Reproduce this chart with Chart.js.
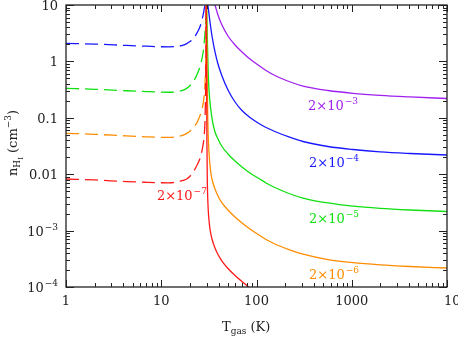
<!DOCTYPE html>
<html>
<head>
<meta charset="utf-8">
<script src="https://cdn.jsdelivr.net/npm/chart.js"></script>
<style>
  html, body { margin: 0; padding: 0; background: #fff; }
  canvas { display: block; }
</style>
</head>
<body>
<canvas id="chart" width="458" height="337"></canvas>
<script>
// T_gas (K) and n_HI (cm^-3)

// solid branches (T above ~30 K)
const tPurple = [34.9, 36.7, 39.4, 43.4, 50.2, 59.5, 70.4, 85.4, 104, 126, 156, 219, 308, 563, 1030, 1980, 4090, 10000];
const nPurple = [13.3, 10, 6.65, 4.42, 2.82, 1.95, 1.47, 1.10, 0.863, 0.690, 0.562, 0.440, 0.366, 0.305, 0.272, 0.2505, 0.2348, 0.2199];

const tBlue = [30.21, 31.34, 32.49, 34.11, 36.67, 39.42, 43.43, 50.2, 59.5, 70.4, 85.4, 104, 126, 156, 219, 308, 563, 1030, 1980, 4090, 10000];
const nBlue = [13.3, 8.15, 4.99, 2.82, 1.47, 0.899, 0.551, 0.311, 0.1906, 0.1347, 0.1012, 0.0809, 0.0673, 0.0571, 0.0457, 0.0380, 0.0310, 0.0274, 0.0249, 0.0233, 0.0219];

const tGreen = [29.93, 30.21, 30.58, 31.11, 31.72, 32.89, 34.51, 36.67, 39.42, 43.43, 50.2, 59.5, 70.4, 85.4, 104, 126, 156, 219, 308, 563, 1030, 1980, 4090, 10000];
const nGreen = [13.3, 5.42, 1.95, 0.649, 0.311, 0.1554, 0.0877, 0.0560, 0.0421, 0.0310, 0.0228, 0.01714, 0.01342, 0.01050, 0.00856, 0.00698, 0.00581, 0.00455, 0.00378, 0.00309, 0.00271, 0.00248, 0.00232, 0.00218];

const tOrange = [29.79, 30.07, 30.44, 30.89, 31.42, 32.11, 33.30, 34.94, 36.67, 39.42, 43.43, 50.2, 59.5, 70.4, 85.4, 104, 126, 156, 219, 308, 563, 1030, 1980, 4090, 10000];
const nOrange = [13.3, 2.39, 0.311, 0.0745, 0.0329, 0.01786, 0.01008, 0.00698, 0.00547, 0.00411, 0.00309, 0.00232, 0.00174, 0.001364, 0.001068, 0.000853, 0.000696, 0.000579, 0.000462, 0.000382, 0.000307, 0.000270, 0.000247, 0.000231, 0.000217];

const tRed = [29.65, 29.87, 30.15, 30.44, 30.89, 31.57, 32.49, 34.11, 36.67, 39.42, 43.43, 50.2, 59.5, 70.4, 85.4, 104];
const nRed = [13.3, 1.059, 0.0404, 0.00789, 0.00309, 0.00167, 0.001068, 0.000710, 0.000491, 0.000377, 0.000289, 0.000213, 0.00016, 0.000125, 0.000096, 0.0000783];

// dashed branches (T below ~30 K)
const tBlueCold = [1, 2, 4.3, 7, 9.7, 12, 14.5, 17, 18.5, 20, 21.5, 23.5, 25.5, 26.6, 27.6, 28.5, 29.2];
const nBlueCold = [2.09, 2.03, 1.92, 1.86, 1.82, 1.81, 1.84, 1.94, 2.07, 2.25, 2.5, 3.1, 4.1, 5.2, 6.8, 9.3, 12];

const tGreenCold = [1, 2, 4.3, 7, 9.7, 12, 14.5, 17, 18.5, 20, 21.5, 23, 24.5, 26, 27.6, 28.8, 29.5, 29.9];
const nGreenCold = [0.333, 0.32, 0.302, 0.292, 0.286, 0.284, 0.29, 0.31, 0.333, 0.37, 0.43, 0.52, 0.66, 0.9, 1.5, 3.2, 6.5, 13];

const tOrangeCold = [1, 2, 4.3, 7, 9.7, 12, 14.5, 17, 18.5, 20, 21.5, 23.5, 25, 26.6, 27.8, 28.8, 29.3, 29.6, 29.75];
const nOrangeCold = [0.0531, 0.051, 0.0477, 0.046, 0.0451, 0.0449, 0.046, 0.0495, 0.053, 0.058, 0.066, 0.08, 0.1, 0.137, 0.2, 0.4, 1, 3, 13];

const tRedCold = [1, 2, 4.3, 7, 9.7, 12, 14.5, 17, 18.5, 20, 21.7, 23.5, 25.5, 27, 28.1, 28.8, 29.2, 29.45, 29.6];
const nRedCold = [0.00822, 0.0079, 0.0074, 0.00718, 0.00706, 0.00702, 0.00725, 0.0078, 0.0082, 0.0092, 0.011, 0.014, 0.019, 0.028, 0.045, 0.09, 0.3, 2, 13];

// curve labels: base text and exponent
const curveLabels = [['2×10', '−3'], ['2×10', '−4'], ['2×10', '−5'], ['2×10', '−6'], ['2×10', '−7']];

// axis ticks
const xTicks = [1, 10, 100, 1000, 10000];
const xTickLabels = [['1', ''], ['10', ''], ['100', ''], ['1000', ''], ['10', '4']];
const yTicks = [1e-4, 1e-3, 0.01, 0.1, 1, 10];
const yTickLabels = [['10', '−4'], ['10', '−3'], ['0.01', ''], ['0.1', ''], ['1', ''], ['10', '']];

const PURPLE = '#a020f0';
const BLUE = '#1818ff';
const GREEN = '#10e010';
const ORANGE = '#ff8c00';
const RED = '#ff1a1a';

const FONT = '"DejaVu Serif", serif';

function series(ts, ns, color, dashed) {
  return {
    data: ts.map((t, i) => ({ x: t, y: ns[i] })),
    borderColor: color,
    borderWidth: 1.3,
    borderDash: dashed ? [13, 6] : [],
    pointRadius: 0,
    cubicInterpolationMode: 'monotone',
    fill: false
  };
}

// draw "base" with an optional superscript; align is for the whole string
function supText(ctx, base, sup, x, y, align, size) {
  size = size || 13;
  const small = Math.round(size * 0.7);
  ctx.font = size + 'px ' + FONT;
  const wb = ctx.measureText(base).width;
  ctx.font = small + 'px ' + FONT;
  const ws = sup ? ctx.measureText(sup).width + 1 : 0;
  let left = x;
  if (align === 'right') left = x - wb - ws;
  if (align === 'center') left = x - (wb + ws) / 2;
  ctx.textAlign = 'left';
  ctx.font = size + 'px ' + FONT;
  ctx.fillText(base, left, y);
  if (sup) {
    ctx.font = small + 'px ' + FONT;
    ctx.fillText(sup, left + wb + 1, y - 6);
  }
}

// label anchors (left edge, baseline) in data coordinates
const labelSpots = [
  { t: 347, n: 0.137, color: PURPLE },
  { t: 356, n: 0.0134, color: BLUE },
  { t: 356, n: 0.00136, color: GREEN },
  { t: 356, n: 0.000139, color: ORANGE },
  { t: 9.0, n: 0.0035, color: RED }
];

const framePlugin = {
  id: 'frame',
  afterDatasetsDraw(chart) {
    const { ctx, chartArea: a, scales: { x, y } } = chart;
    ctx.save();

    // box
    ctx.strokeStyle = '#222';
    ctx.lineWidth = 1.3;
    ctx.setLineDash([]);
    ctx.strokeRect(a.left, a.top, a.right - a.left, a.bottom - a.top);

    // ticks, pointing inwards on all four sides
    ctx.lineWidth = 1;
    ctx.beginPath();
    for (let e = 0; e <= 4; e++) {
      for (let m = 1; m < 10; m++) {
        const v = m * Math.pow(10, e);
        if (v > 10000 * 1.001) break;
        const px = Math.round(x.getPixelForValue(v)) + 0.5;
        const len = m === 1 ? 7 : 4;
        ctx.moveTo(px, a.bottom); ctx.lineTo(px, a.bottom - len);
        ctx.moveTo(px, a.top); ctx.lineTo(px, a.top + len);
      }
    }
    for (let e = -4; e <= 1; e++) {
      for (let m = 1; m < 10; m++) {
        const v = m * Math.pow(10, e);
        if (v > 10 * 1.001) break;
        const py = Math.round(y.getPixelForValue(v)) + 0.5;
        const len = m === 1 ? 8 : 4;
        ctx.moveTo(a.left, py); ctx.lineTo(a.left + len, py);
        ctx.moveTo(a.right, py); ctx.lineTo(a.right - len, py);
      }
    }
    ctx.stroke();

    // tick labels
    ctx.fillStyle = '#222';
    ctx.textBaseline = 'alphabetic';
    xTicks.forEach((v, i) => {
      const px = x.getPixelForValue(v);
      const [b, s] = xTickLabels[i];
      if (s) supText(ctx, b, s, px - 3, a.bottom + 18, 'left');
      else supText(ctx, b, s, px, a.bottom + 18, 'center');
    });
    yTicks.forEach((v, i) => {
      const py = y.getPixelForValue(v);
      const [b, s] = yTickLabels[i];
      supText(ctx, b, s, a.left - 8, py + 5, 'right');
    });

    // x axis title: T_gas (K)
    ctx.textAlign = 'left';
    let cx = 222;
    ctx.font = '13px ' + FONT;
    ctx.fillText('T', cx, 331);
    cx += ctx.measureText('T').width;
    ctx.font = '9px ' + FONT;
    ctx.fillText('gas', cx, 334);
    cx += ctx.measureText('gas').width;
    ctx.font = '13px ' + FONT;
    ctx.fillText(' (K)', cx, 331);

    // y axis title: n_HI (cm^-3), rotated
    const parts = [
      ['n', 13, 0], ['H', 9, 3], ['I', 7, 6], [' (cm', 13, 0], ['−3', 9, -6], [')', 13, 0]
    ];
    let total = 0;
    parts.forEach(p => { ctx.font = p[1] + 'px ' + FONT; total += ctx.measureText(p[0]).width; });
    ctx.save();
    ctx.translate(17, 143);
    ctx.rotate(-Math.PI / 2);
    let rx = -total / 2;
    parts.forEach(p => {
      ctx.font = p[1] + 'px ' + FONT;
      ctx.fillText(p[0], rx, p[2]);
      rx += ctx.measureText(p[0]).width;
    });
    ctx.restore();

    // curve labels
    labelSpots.forEach((s, i) => {
      ctx.fillStyle = s.color;
      const [b, sp] = curveLabels[i];
      supText(ctx, b, sp, x.getPixelForValue(s.t), y.getPixelForValue(s.n), 'left');
    });

    ctx.restore();
  }
};

new Chart(document.getElementById('chart').getContext('2d'), {
  type: 'line',
  data: {
    datasets: [
      series(tRed, nRed, RED, false),
      series(tRedCold, nRedCold, RED, true),
      series(tOrange, nOrange, ORANGE, false),
      series(tOrangeCold, nOrangeCold, ORANGE, true),
      series(tGreen, nGreen, GREEN, false),
      series(tGreenCold, nGreenCold, GREEN, true),
      series(tBlue, nBlue, BLUE, false),
      series(tBlueCold, nBlueCold, BLUE, true),
      series(tPurple, nPurple, PURPLE, false)
    ]
  },
  options: {
    responsive: false,
    animation: false,
    devicePixelRatio: 1,
    layout: { padding: { left: 66, right: 11, top: 5, bottom: 50 } },
    plugins: { legend: { display: false }, tooltip: { enabled: false } },
    scales: {
      x: { type: 'logarithmic', min: 1, max: 10000, display: false },
      y: { type: 'logarithmic', min: 1e-4, max: 10, display: false }
    }
  },
  plugins: [framePlugin]
});
</script>
</body>
</html>
